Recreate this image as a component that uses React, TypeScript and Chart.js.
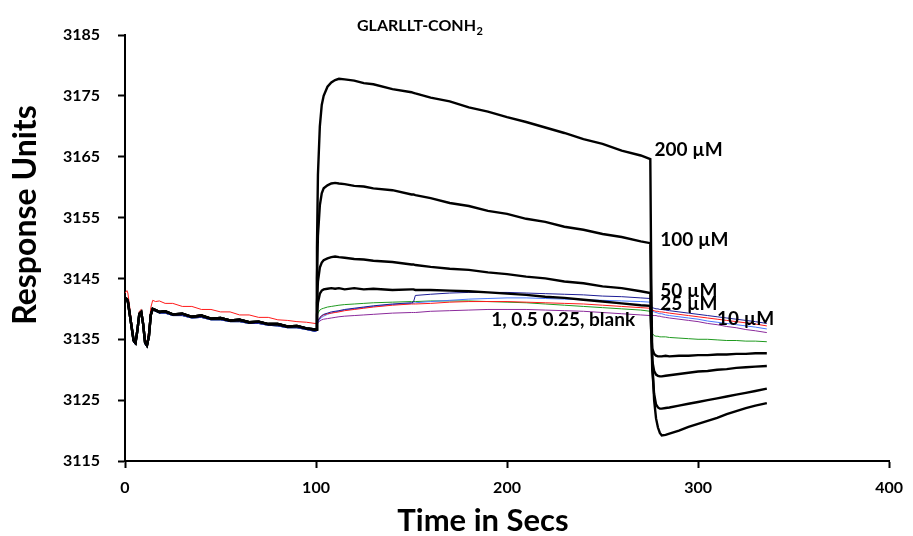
import React, { useEffect, useRef } from 'react';
import { Chart, registerables } from 'chart.js';

Chart.register(...registerables);

const FONT = 'Lato, "Open Sans", "DejaVu Sans", sans-serif';

// Sensorgram time grids (seconds): baseline, injection (association), wash (dissociation)
const baseTimes = [0, 1, 1.5, 3, 4.5, 5.5, 6.5, 7.5, 8.5, 9.5, 10.5, 11.5, 12.5, 13.5, 14.5, 16, 18, 21, 25, 30, 35, 40, 45, 50, 55, 60, 65, 70, 75, 80, 85, 90, 95, 99.5];
const assocTimes = [100, 100.5, 101, 102, 103, 104, 106, 108, 110, 112, 115, 120, 125, 130, 140, 150, 151, 152, 160, 170, 180, 190, 200, 210, 220, 230, 240, 250, 260, 270, 275];
const dissocTimes = [275.5, 276, 277, 278, 279, 280, 281, 283, 285, 290, 295, 300, 305, 310, 315, 320, 325, 330, 336];

// Baseline response (RU)
const baseBlack = [3141.8, 3141.6, 3141.2, 3138.0, 3134.8, 3134.4, 3136.5, 3139.2, 3139.5, 3137.5, 3134.5, 3134.0, 3135.5, 3139.0, 3140.0, 3139.8, 3139.5, 3139.6, 3139.1, 3139.2, 3138.7, 3138.9, 3138.4, 3138.5, 3138.1, 3138.2, 3137.8, 3137.9, 3137.5, 3137.5, 3137.1, 3137.2, 3136.8, 3136.6];
const baseRed = [3142.6, 3143.0, 3142.6, 3139.0, 3135.2, 3134.8, 3136.9, 3139.6, 3139.9, 3138.0, 3135.0, 3134.5, 3136.5, 3140.2, 3141.4, 3141.2, 3141.3, 3140.9, 3140.9, 3140.4, 3140.4, 3139.9, 3139.9, 3139.5, 3139.5, 3139.0, 3139.0, 3138.6, 3138.6, 3138.2, 3138.1, 3137.9, 3137.8, 3137.6];
const baseLower = [3141.6, 3141.4, 3141.0, 3137.8, 3134.5, 3134.1, 3136.2, 3139.0, 3139.3, 3137.2, 3134.2, 3133.7, 3135.2, 3138.8, 3139.8, 3139.6, 3139.3, 3139.3, 3138.9, 3138.9, 3138.5, 3138.6, 3138.2, 3138.2, 3137.9, 3137.9, 3137.6, 3137.6, 3137.3, 3137.2, 3136.9, 3136.9, 3136.6, 3136.3];

// Association phase (RU)
const a200 = [3136.6, 3150.0, 3162.0, 3170.0, 3173.5, 3175.0, 3176.5, 3177.2, 3177.6, 3177.8, 3177.7, 3177.5, 3177.1, 3176.9, 3176.1, 3175.6, 3175.5, 3175.4, 3174.7, 3174.1, 3173.1, 3172.4, 3171.5, 3170.7, 3169.8, 3168.9, 3167.9, 3167.1, 3166.0, 3165.2, 3164.6];
const a100 = [3136.6, 3145.0, 3152.0, 3157.0, 3159.0, 3159.8, 3160.3, 3160.6, 3160.7, 3160.6, 3160.5, 3160.2, 3160.1, 3159.8, 3159.5, 3158.8, 3158.8, 3158.7, 3158.2, 3157.4, 3156.9, 3156.1, 3155.6, 3154.8, 3154.3, 3153.5, 3153.0, 3152.3, 3151.8, 3151.1, 3150.8];
const a50 = [3136.6, 3141.0, 3144.5, 3146.8, 3147.6, 3148.0, 3148.3, 3148.5, 3148.6, 3148.5, 3148.4, 3148.2, 3148.1, 3147.9, 3147.7, 3147.3, 3147.3, 3147.2, 3146.9, 3146.6, 3146.4, 3146.0, 3145.7, 3145.3, 3145.0, 3144.5, 3144.2, 3143.7, 3143.4, 3142.9, 3142.6];
const a25 = [3136.6, 3139.0, 3141.0, 3142.5, 3143.0, 3143.2, 3143.3, 3143.4, 3143.3, 3143.4, 3143.2, 3143.4, 3143.2, 3143.3, 3143.1, 3143.2, 3143.2, 3143.1, 3143.1, 3143.0, 3142.9, 3142.7, 3142.5, 3142.3, 3142.0, 3141.8, 3141.5, 3141.2, 3140.9, 3140.6, 3140.5];
const a10 = [3136.4, 3137.5, 3138.0, 3138.6, 3138.9, 3139.1, 3139.3, 3139.5, 3139.6, 3139.7, 3139.9, 3140.1, 3140.3, 3140.5, 3140.8, 3141.0, 3141.1, 3142.2, 3142.4, 3142.6, 3142.7, 3142.7, 3142.7, 3142.6, 3142.5, 3142.4, 3142.3, 3142.1, 3142.0, 3141.8, 3141.7];
const a1 = [3137.6, 3137.8, 3138.1, 3138.5, 3138.8, 3139.0, 3139.2, 3139.3, 3139.4, 3139.5, 3139.7, 3139.9, 3140.1, 3140.3, 3140.6, 3140.8, 3140.8, 3140.8, 3140.9, 3141.1, 3141.2, 3141.2, 3141.2, 3141.1, 3141.0, 3140.9, 3140.8, 3140.6, 3140.4, 3140.2, 3140.1];
const a05 = [3136.4, 3137.3, 3137.8, 3138.3, 3138.6, 3138.8, 3139.1, 3139.3, 3139.5, 3139.6, 3139.8, 3140.0, 3140.2, 3140.4, 3140.7, 3140.9, 3140.9, 3141.0, 3141.2, 3141.4, 3141.6, 3141.7, 3141.8, 3141.8, 3141.7, 3141.6, 3141.5, 3141.4, 3141.3, 3141.2, 3141.1];
const a025 = [3136.6, 3138.5, 3139.3, 3139.8, 3140.0, 3140.1, 3140.3, 3140.4, 3140.5, 3140.6, 3140.7, 3140.8, 3140.9, 3141.0, 3141.1, 3141.2, 3141.2, 3141.2, 3141.3, 3141.3, 3141.3, 3141.2, 3141.1, 3141.0, 3140.8, 3140.6, 3140.4, 3140.2, 3140.0, 3139.8, 3139.6];
const aBlank = [3136.4, 3137.3, 3137.7, 3138.0, 3138.2, 3138.3, 3138.4, 3138.5, 3138.6, 3138.7, 3138.8, 3138.9, 3139.0, 3139.1, 3139.3, 3139.4, 3139.4, 3139.4, 3139.6, 3139.7, 3139.8, 3139.9, 3139.9, 3139.9, 3139.8, 3139.7, 3139.6, 3139.4, 3139.2, 3139.0, 3138.9];

// Dissociation phase (RU)
const d200 = [3145.0, 3132.0, 3125.0, 3122.0, 3120.5, 3119.6, 3119.2, 3119.3, 3119.5, 3120.0, 3120.6, 3121.1, 3121.6, 3122.1, 3122.7, 3123.2, 3123.7, 3124.1, 3124.5];
const d100 = [3138.0, 3130.0, 3126.0, 3124.3, 3123.8, 3123.6, 3123.6, 3123.7, 3123.8, 3124.1, 3124.4, 3124.7, 3125.0, 3125.3, 3125.6, 3125.9, 3126.2, 3126.5, 3126.9];
const d50 = [3136.0, 3131.5, 3129.8, 3129.2, 3129.0, 3128.9, 3128.9, 3129.0, 3129.1, 3129.3, 3129.5, 3129.7, 3129.8, 3130.0, 3130.1, 3130.3, 3130.4, 3130.5, 3130.6];
const d25 = [3136.0, 3133.5, 3132.6, 3132.3, 3132.2, 3132.2, 3132.2, 3132.3, 3132.2, 3132.3, 3132.3, 3132.4, 3132.4, 3132.5, 3132.5, 3132.6, 3132.6, 3132.7, 3132.7];
const d10 = [3140.5, 3140.2, 3140.1, 3140.0, 3140.0, 3139.9, 3139.9, 3139.8, 3139.7, 3139.5, 3139.3, 3139.1, 3138.9, 3138.7, 3138.5, 3138.3, 3138.1, 3137.9, 3137.6];
const d1 = [3139.9, 3139.8, 3139.7, 3139.6, 3139.6, 3139.5, 3139.5, 3139.4, 3139.3, 3139.1, 3138.9, 3138.7, 3138.5, 3138.3, 3138.1, 3137.9, 3137.7, 3137.5, 3137.2];
const d05 = [3139.8, 3139.6, 3139.5, 3139.4, 3139.3, 3139.2, 3139.2, 3139.0, 3138.9, 3138.7, 3138.5, 3138.3, 3138.0, 3137.8, 3137.6, 3137.4, 3137.2, 3137.0, 3136.7];
const d025 = [3137.5, 3136.0, 3135.6, 3135.5, 3135.5, 3135.4, 3135.4, 3135.4, 3135.3, 3135.2, 3135.1, 3135.0, 3135.0, 3134.9, 3134.8, 3134.8, 3134.7, 3134.7, 3134.6];
const dBlank = [3138.9, 3138.9, 3138.9, 3138.9, 3138.8, 3138.8, 3138.7, 3138.6, 3138.5, 3138.3, 3138.1, 3137.9, 3137.6, 3137.4, 3137.1, 3136.9, 3136.6, 3136.4, 3136.1];

// Concentration labels drawn beside the curves (time, RU)
const curveLabels = [
  { text: '200 µM', t: 277.2, ru: 3166.1 },
  { text: '100 µM', t: 280.2, ru: 3151.4 },
  { text: '50 µM', t: 280.2, ru: 3143.0 },
  { text: '25 µM', t: 280.2, ru: 3140.8 },
  { text: '10 µM', t: 309.9, ru: 3138.4 },
  { text: '1, 0.5 0.25, blank', t: 191.7, ru: 3138.2 },
];

const titleMain = 'GLARLLT-CONH';
const titleSub = '2';
const xTitle = 'Time in Secs';
const yTitle = 'Response Units';

const series = [
  { label: '200 µM', base: baseBlack, assoc: a200, dissoc: d200, color: '#000000', width: 2.4 },
  { label: '100 µM', base: baseBlack, assoc: a100, dissoc: d100, color: '#000000', width: 2.4 },
  { label: '50 µM', base: baseBlack, assoc: a50, dissoc: d50, color: '#000000', width: 2.4 },
  { label: '25 µM', base: baseBlack, assoc: a25, dissoc: d25, color: '#000000', width: 2.4 },
  { label: '10 µM', base: baseLower, assoc: a10, dissoc: d10, color: '#1c1c96', width: 1 },
  { label: '1 µM', base: baseRed, assoc: a1, dissoc: d1, color: '#ff1a1a', width: 1 },
  { label: '0.5 µM', base: baseLower, assoc: a05, dissoc: d05, color: '#4a78ff', width: 1 },
  { label: '0.25 µM', base: baseLower, assoc: a025, dissoc: d025, color: '#1f9a1f', width: 1 },
  { label: 'blank', base: baseLower, assoc: aBlank, dissoc: dBlank, color: '#8b2a9b', width: 1 },
];

function toPoints(times: number[], values: number[]) {
  return times.map((t, i) => ({ x: t, y: values[i] }));
}

const textPlugin = {
  id: 'sensorgramText',
  afterDraw(chart: any) {
    const ctx = chart.ctx as CanvasRenderingContext2D;
    const xs = chart.scales.x;
    const ys = chart.scales.y;
    ctx.save();
    ctx.fillStyle = '#000';

    // Title with subscript
    ctx.textAlign = 'left';
    ctx.textBaseline = 'alphabetic';
    ctx.font = `bold 16px ${FONT}`;
    ctx.fillText(titleMain, 357, 31);
    const w = ctx.measureText(titleMain).width;
    ctx.font = `bold 11px ${FONT}`;
    ctx.fillText(titleSub, 357 + w + 0.5, 35);

    // Axis titles
    ctx.textAlign = 'center';
    ctx.font = `bold 31px ${FONT}`;
    ctx.fillText(xTitle, 483, 531);
    ctx.save();
    ctx.font = `bold 32px ${FONT}`;
    ctx.translate(36, 215);
    ctx.rotate(-Math.PI / 2);
    ctx.fillText(yTitle, 0, 0);
    ctx.restore();

    // Concentration labels
    ctx.font = `bold 19px ${FONT}`;
    ctx.textAlign = 'left';
    ctx.textBaseline = 'middle';
    for (const l of curveLabels) {
      ctx.fillText(l.text, xs.getPixelForValue(l.t), ys.getPixelForValue(l.ru));
    }
    ctx.restore();
  },
};

export default function App() {
  const ref = useRef<HTMLCanvasElement>(null);

  useEffect(() => {
    const canvas = ref.current;
    if (!canvas) return;
    const datasets = series.map((s) => ({
      label: s.label,
      data: [
        ...toPoints(baseTimes, s.base),
        ...toPoints(assocTimes, s.assoc),
        ...toPoints(dissocTimes, s.dissoc),
      ],
      borderColor: s.color,
      backgroundColor: s.color,
      borderWidth: s.width,
      pointRadius: 0,
      tension: 0,
      fill: false,
    }));
    const tickFont = { family: FONT, size: 16, weight: 'bold' as const };
    const chart = new Chart(canvas, {
      type: 'line',
      data: { datasets },
      options: {
        responsive: false,
        animation: false,
        devicePixelRatio: 1,
        layout: { padding: { top: 35, right: 17, left: 0, bottom: 0 } },
        plugins: {
          legend: { display: false },
          tooltip: { enabled: false },
          title: { display: false },
        },
        scales: {
          x: {
            type: 'linear',
            min: 0,
            max: 400,
            afterFit: (s: any) => {
              s.height = 75;
            },
            ticks: { stepSize: 100, color: '#000', font: tickFont, padding: 10, maxRotation: 0, callback: (v: any) => String(v) },
            grid: { drawOnChartArea: false, drawTicks: true, tickLength: 7, tickColor: '#000', tickWidth: 2 },
            border: { display: true, color: '#000', width: 2 },
          },
          y: {
            type: 'linear',
            min: 3115,
            max: 3185,
            afterFit: (s: any) => {
              s.width = 125;
            },
            ticks: { stepSize: 10, color: '#000', font: tickFont, padding: 18, callback: (v: any) => String(v) },
            grid: { drawOnChartArea: false, drawTicks: true, tickLength: 7, tickColor: '#000', tickWidth: 2 },
            border: { display: true, color: '#000', width: 2 },
          },
        },
      },
      plugins: [textPlugin],
    });
    return () => chart.destroy();
  }, []);

  return (
    <div style={{ position: 'fixed', left: 0, top: 0, width: 913, height: 536, background: '#fff' }}>
      <canvas ref={ref} width={913} height={536} style={{ width: 913, height: 536, display: 'block' }} />
    </div>
  );
}
